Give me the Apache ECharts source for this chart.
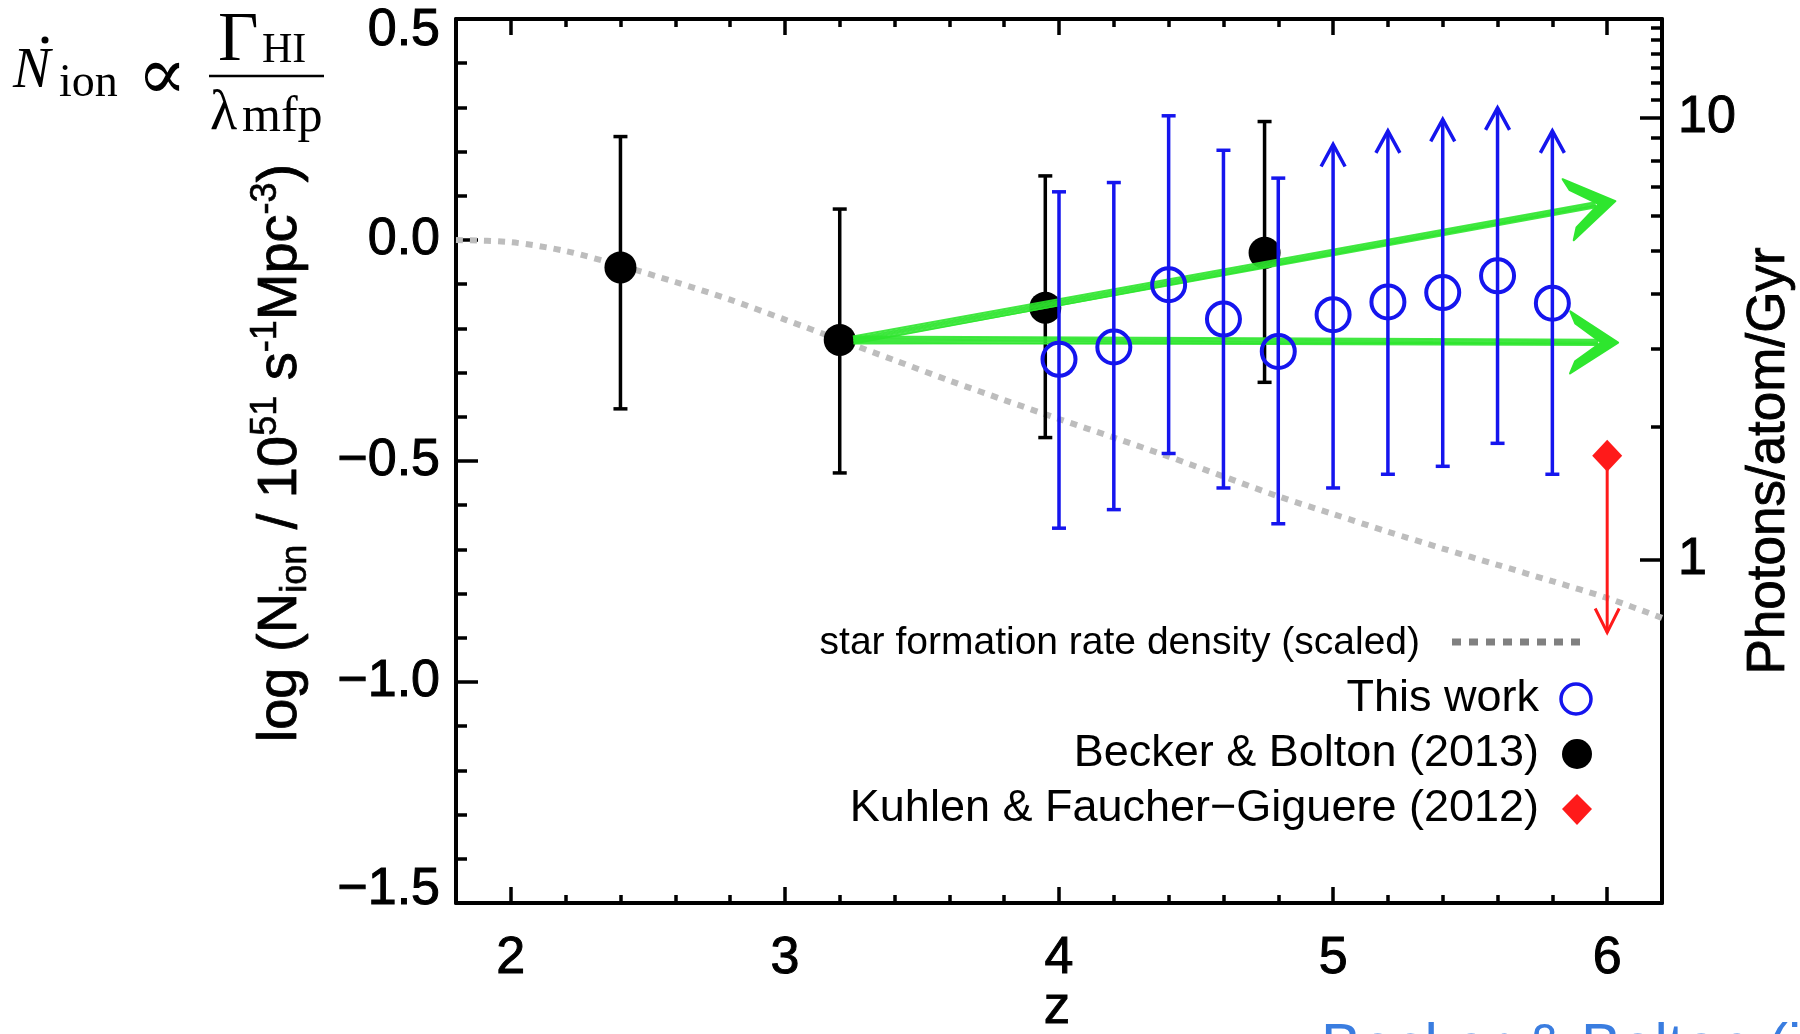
<!DOCTYPE html>
<html><head><meta charset="utf-8">
<script src="https://cdn.jsdelivr.net/npm/echarts@6/dist/echarts.min.js"></script>
<style>html,body{margin:0;padding:0;background:#fff}#c{width:1800px;height:1034px}</style>
</head><body><div id="c"></div>
<script>
// ---------- data ----------
const thisZ     = [4.0, 4.2, 4.4, 4.6, 4.8, 5.0, 5.2, 5.4, 5.6, 5.8];
const thisVal   = [-0.270, -0.242, -0.101, -0.179, -0.252, -0.169, -0.140, -0.119, -0.081, -0.143];
const thisLow   = [-0.652, -0.610, -0.483, -0.561, -0.642, -0.561, -0.530, -0.512, -0.460, -0.530];
const thisHigh  = [0.109, 0.130, 0.281, 0.203, 0.140, 0.216, 0.247, 0.273, 0.299, 0.247];
const thisLimit = [0, 0, 0, 0, 0, 1, 1, 1, 1, 1];   // 1 = lower limit (arrow up)

const bbZ    = [2.4, 3.2, 3.95, 4.75];
const bbVal  = [-0.062, -0.226, -0.153, -0.029];
const bbLow  = [-0.382, -0.527, -0.447, -0.322];
const bbHigh = [0.234, 0.070, 0.145, 0.268];

const kfZ     = [6.0];
const kfVal   = [-0.488];
const kfLimit = [-0.888];

const sfrZ   = [1.8, 2.0, 2.2, 2.4, 2.6, 2.8, 3.0, 3.2, 3.4, 3.6, 3.8, 4.0, 4.2, 4.4, 4.6, 4.8, 5.0, 5.2, 5.4, 5.6, 5.8, 6.0, 6.2];
const sfrVal = [0.0, -0.005, -0.025, -0.058, -0.095, -0.135, -0.180, -0.226, -0.272, -0.318, -0.362, -0.405, -0.447, -0.490, -0.535, -0.580, -0.620, -0.660, -0.698, -0.735, -0.772, -0.810, -0.855];

const arrowStartZ = [3.25, 3.25];
const arrowStartV = [-0.226, -0.226];
const arrowEndZ   = [6.03, 6.04];
const arrowEndV   = [0.088, -0.232];

const xMajorTicks = [2, 3, 4, 5, 6];
const xMinorTicks = [2.2, 2.4, 2.6, 2.8, 3.2, 3.4, 3.6, 3.8, 4.2, 4.4, 4.6, 4.8, 5.2, 5.4, 5.6, 5.8];
const yTickLabels = ['\u22121.5', '\u22121.0', '\u22120.5', '0.0', '0.5'];
const rightMajorTicks = [1, 10];
const rightMinorTicks = [2, 3, 4, 5, 6, 7, 8, 9, 11, 12, 13, 14, 15, 16];
const photonOffset = 0.724;   // log10(photons/atom/Gyr) = left value + offset

// ---------- styles ----------
const BLUE = '#1515ee', BLACK = '#000', RED = '#ff1a1a', GREEN = '#2ee62e', GREY = '#bdbdbd';
const SANS = '"Liberation Sans", Arial, Helvetica, sans-serif';
const SERIF = '"Liberation Serif", "DejaVu Serif", serif';

const xMin = 1.8, xMax = 6.2, yMin = -1.5, yMax = 0.5;

function errRender(color, capHalf) {
  return function (params, api) {
    const z = api.value(0), lo = api.value(1), hi = api.value(2), lim = api.value(3);
    const a = api.coord([z, lo]), b = api.coord([z, hi]);
    const st = { stroke: color, lineWidth: 3.5, fill: null };
    const ch = [
      { type: 'line', shape: { x1: a[0], y1: a[1], x2: b[0], y2: b[1] }, style: st },
      { type: 'line', shape: { x1: a[0] - capHalf, y1: a[1], x2: a[0] + capHalf, y2: a[1] }, style: st }
    ];
    if (lim) {
      ch.push({ type: 'polyline', shape: { points: [[b[0] - 12, b[1] + 22], [b[0], b[1]], [b[0] + 12, b[1] + 22]] }, style: st });
    } else {
      ch.push({ type: 'line', shape: { x1: b[0] - capHalf, y1: b[1], x2: b[0] + capHalf, y2: b[1] }, style: st });
    }
    return { type: 'group', children: ch };
  };
}

function greenRender(params, api) {
  const p0 = api.coord([api.value(0), api.value(1)]);
  const p1 = api.coord([api.value(2), api.value(3)]);
  const dx = p1[0] - p0[0], dy = p1[1] - p0[1];
  const L = Math.hypot(dx, dy);
  const ux = dx / L, uy = dy / L, nx = -uy, ny = ux;
  const ch = [];
  const offs = [[-3.5, -2.6], [-1.8, -1.2], [-0.3, 0.2], [1.2, 1.4], [2.8, 2.6], [4, 0.8]];
  const endBack = 20;
  offs.forEach(function (o, i) {
    ch.push({ type: 'line', shape: {
      x1: p0[0] + nx * o[0], y1: p0[1] + ny * o[0],
      x2: p1[0] - ux * endBack + nx * o[1], y2: p1[1] - uy * endBack + ny * o[1] },
      style: { stroke: GREEN, lineWidth: i === 5 ? 1.2 : 2, opacity: 0.9 } });
  });
  const P = function (b, n) { return [p1[0] - ux * b + nx * n, p1[1] - uy * b + ny * n]; };
  ch.push({ type: 'polygon', shape: { points: [P(0, 0), P(48, 31), P(43, 19), P(17, 0), P(43, -19), P(48, -31)] },
    style: { fill: GREEN, stroke: GREEN, lineWidth: 2, lineJoin: 'round' } });
  return { type: 'group', children: ch };
}

function redRender(params, api) {
  const a = api.coord([api.value(0), api.value(1)]);
  const b = api.coord([api.value(0), api.value(2)]);
  const st = { stroke: RED, lineWidth: 3, fill: null };
  return { type: 'group', children: [
    { type: 'line', shape: { x1: a[0], y1: a[1], x2: b[0], y2: b[1] }, style: st },
    { type: 'polyline', shape: { points: [[b[0] - 12, b[1] - 24], [b[0], b[1]], [b[0] + 12, b[1] - 24]] }, style: st }
  ] };
}

const zip = (...arrs) => arrs[0].map((_, i) => arrs.map(a => a[i]));

const axisLineStyle = { color: BLACK, width: 4 };
const tickLine = { color: BLACK, width: 3.5 };
const labelBold = { textBorderColor: BLACK, textBorderWidth: 1 };
function xAxisDef(pos, ticks, len, withLabels, showLine) {
  return {
    type: 'value', position: pos, min: xMin, max: xMax,
    axisLine: { show: showLine, onZero: false, lineStyle: axisLineStyle },
    axisTick: { show: true, inside: true, length: len, customValues: ticks, lineStyle: tickLine },
    axisLabel: withLabels ? Object.assign({ show: true, customValues: ticks, fontSize: 52, fontFamily: SANS, color: BLACK, margin: 30,
      formatter: v => String(Math.round(v)) }, labelBold) : { show: false },
    splitLine: { show: false }
  };
}

const yLabelRich = {
  t: Object.assign({ fontSize: 52, fontFamily: SANS, color: BLACK, padding: [24, 0, 0, 0] }, labelBold),
  b: Object.assign({ fontSize: 52, fontFamily: SANS, color: BLACK, padding: [0, 0, 26, 0] }, labelBold),
  m: Object.assign({ fontSize: 52, fontFamily: SANS, color: BLACK }, labelBold)
};

const option = {
  animation: false,
  backgroundColor: '#fff',
  grid: { left: 456, right: 138, top: 19, bottom: 131, show: false },
  xAxis: [
    xAxisDef('bottom', xMajorTicks, 16, true, true),
    xAxisDef('bottom', xMinorTicks, 8, false, false),
    xAxisDef('top', xMajorTicks, 16, false, true),
    xAxisDef('top', xMinorTicks, 8, false, false)
  ],
  yAxis: [
    {
      type: 'value', position: 'left', min: yMin, max: yMax, interval: 0.5,
      axisLine: { show: true, onZero: false, lineStyle: axisLineStyle },
      axisTick: { show: true, inside: true, length: 22, lineStyle: tickLine },
      minorTick: { show: true, splitNumber: 5, length: 11, lineStyle: tickLine },
      axisLabel: { show: true, margin: 16, rich: yLabelRich,
        formatter: function (v) {
          const i = Math.round((v - yMin) / 0.5);
          const s = yTickLabels[i];
          if (i === 0) return '{b|' + s + '}';
          if (i === yTickLabels.length - 1) return '{t|' + s + '}';
          return '{m|' + s + '}';
        } },
      splitLine: { show: false }
    },
    {
      type: 'value', position: 'right', min: yMin + photonOffset, max: yMax + photonOffset,
      axisLine: { show: true, onZero: false, lineStyle: axisLineStyle },
      axisTick: { show: true, inside: true, length: 22, customValues: rightMajorTicks.map(Math.log10), lineStyle: tickLine },
      axisLabel: Object.assign({ show: true, customValues: rightMajorTicks.map(Math.log10), margin: 16, fontSize: 52, fontFamily: SANS, color: BLACK,
        formatter: v => String(Math.round(Math.pow(10, v))) }, labelBold),
      splitLine: { show: false }
    },
    {
      type: 'value', position: 'right', min: yMin + photonOffset, max: yMax + photonOffset,
      axisLine: { show: false },
      axisTick: { show: true, inside: true, length: 11, customValues: rightMinorTicks.map(Math.log10), lineStyle: tickLine },
      axisLabel: { show: false },
      splitLine: { show: false }
    }
  ],
  series: [
    { name: 'star formation rate density (scaled)', type: 'line', z: 1, xAxisIndex: 0, yAxisIndex: 0,
      data: zip(sfrZ, sfrVal), smooth: 0.3, showSymbol: false, symbol: 'none',
      lineStyle: { color: GREY, width: 6, type: [7, 7], cap: 'butt' } },
    { name: 'bb-err', type: 'custom', z: 2, renderItem: errRender(BLACK, 7),
      data: zip(bbZ, bbLow, bbHigh, bbZ.map(() => 0)), encode: { x: 0, y: [1, 2] } },
    { name: 'Becker & Bolton (2013)', type: 'scatter', z: 3, data: zip(bbZ, bbVal), symbol: 'circle', symbolSize: 32,
      itemStyle: { color: BLACK, opacity: 1 } },
    { name: 'arrows', type: 'custom', z: 4, renderItem: greenRender,
      data: zip(arrowStartZ, arrowStartV, arrowEndZ, arrowEndV), encode: { x: [0, 2], y: [1, 3] } },
    { name: 'this-err', type: 'custom', z: 5, renderItem: errRender(BLUE, 7),
      data: zip(thisZ, thisLow, thisHigh, thisLimit), encode: { x: 0, y: [1, 2] } },
    { name: 'This work', type: 'scatter', z: 6, data: zip(thisZ, thisVal), symbol: 'circle', symbolSize: 33,
      itemStyle: { color: 'rgba(0,0,0,0)', borderColor: BLUE, borderWidth: 4, opacity: 1 } },
    { name: 'kf-limit', type: 'custom', z: 7, renderItem: redRender,
      data: zip(kfZ, kfVal, kfLimit), encode: { x: 0, y: [1, 2] } },
    { name: 'Kuhlen & Faucher\u2212Giguere (2012)', type: 'scatter', z: 8, data: zip(kfZ, kfVal), symbol: 'diamond',
      symbolSize: [30, 32], itemStyle: { color: RED, opacity: 1 } }
  ],
  graphic: [
    // axis titles
    { type: 'text', x: 281, y: 453, rotation: Math.PI / 2, z: 10,
      style: { text: '{a|log (N}{s|ion}{a| / 10}{p|51}{a| s}{p|-1}{a|Mpc}{p|-3}{a|)}', align: 'center', verticalAlign: 'middle',
        rich: {
          a: { fontSize: 56, fontFamily: SANS, fill: BLACK, lineHeight: 66, verticalAlign: 'middle', stroke: BLACK, lineWidth: 0.8 },
          s: { fontSize: 36, fontFamily: SANS, fill: BLACK, lineHeight: 66, verticalAlign: 'bottom', stroke: BLACK, lineWidth: 0.6 },
          p: { fontSize: 36, fontFamily: SANS, fill: BLACK, lineHeight: 66, verticalAlign: 'top', stroke: BLACK, lineWidth: 0.6 }
        } } },
    { type: 'text', x: 1769, y: 461, rotation: Math.PI / 2, z: 10,
      style: { text: 'Photons/atom/Gyr', align: 'center', verticalAlign: 'middle', font: '53px ' + SANS, fill: BLACK, stroke: BLACK, lineWidth: 0.8 } },
    { type: 'text', x: 1057, y: 1008, z: 10,
      style: { text: 'z', align: 'center', verticalAlign: 'middle', font: '53px ' + SANS, fill: BLACK, stroke: BLACK, lineWidth: 0.8 } },
    // formula
    { type: 'text', x: 13, y: 72, style: { text: 'N', align: 'left', verticalAlign: 'middle', font: 'italic 56px ' + SERIF, fill: BLACK } },
    { type: 'circle', shape: { cx: 45, cy: 40, r: 3.5 }, style: { fill: BLACK } },
    { type: 'text', x: 59, y: 84, style: { text: 'ion', align: 'left', verticalAlign: 'middle', font: '46px ' + SERIF, fill: BLACK } },
    { type: 'text', x: 137, y: 80, style: { text: '\u221D', align: 'left', verticalAlign: 'middle', font: '74px "DejaVu Sans ExtraLight", "DejaVu Serif", serif', fill: BLACK } },
    { type: 'text', x: 218, y: 42, style: { text: '\u0393', align: 'left', verticalAlign: 'middle', font: '70px ' + SERIF, fill: BLACK } },
    { type: 'text', x: 262, y: 51, style: { text: 'HI', align: 'left', verticalAlign: 'middle', font: '42px ' + SERIF, fill: BLACK } },
    { type: 'line', shape: { x1: 209, y1: 76, x2: 324, y2: 76 }, style: { stroke: BLACK, lineWidth: 2.5 } },
    { type: 'text', x: 210, y: 114, style: { text: '\u03BB', align: 'left', verticalAlign: 'middle', font: '56px ' + SERIF, fill: BLACK } },
    { type: 'text', x: 242, y: 118, style: { text: 'mfp', align: 'left', verticalAlign: 'middle', font: '50px ' + SERIF, fill: BLACK } },
    // legend
    { type: 'text', x: 1420, y: 643, z: 10, style: { text: 'star formation rate density (scaled)', align: 'right', verticalAlign: 'middle', font: '39px ' + SANS, fill: BLACK } },
    { type: 'line', z: 10, shape: { x1: 1452, y1: 642, x2: 1580, y2: 642 }, style: { stroke: '#808080', lineWidth: 7, lineDash: [9, 8] } },
    { type: 'text', x: 1539, y: 699, z: 10, style: { text: 'This work', align: 'right', verticalAlign: 'middle', font: '45px ' + SANS, fill: BLACK } },
    { type: 'circle', z: 10, shape: { cx: 1576, cy: 699, r: 15 }, style: { fill: null, stroke: BLUE, lineWidth: 3.5 } },
    { type: 'text', x: 1539, y: 754, z: 10, style: { text: 'Becker & Bolton (2013)', align: 'right', verticalAlign: 'middle', font: '45px ' + SANS, fill: BLACK } },
    { type: 'circle', z: 10, shape: { cx: 1577, cy: 754, r: 15 }, style: { fill: BLACK } },
    { type: 'text', x: 1539, y: 809, z: 10, style: { text: 'Kuhlen & Faucher\u2212Giguere (2012)', align: 'right', verticalAlign: 'middle', font: '45px ' + SANS, fill: BLACK } },
    { type: 'polygon', z: 10, shape: { points: [[1577, 794], [1592, 809], [1577, 825], [1562, 809]] }, style: { fill: RED } },
    // cut-off caption at bottom
    { type: 'text', x: 1321, y: 1018, z: 10, style: { text: 'Becker & Bolton (in prep.)', align: 'left', verticalAlign: 'top', font: '60px ' + SANS, fill: '#3a7de0' } }
  ]
};

const chart = echarts.init(document.getElementById('c'));
chart.setOption(option);
</script>
</body></html>
